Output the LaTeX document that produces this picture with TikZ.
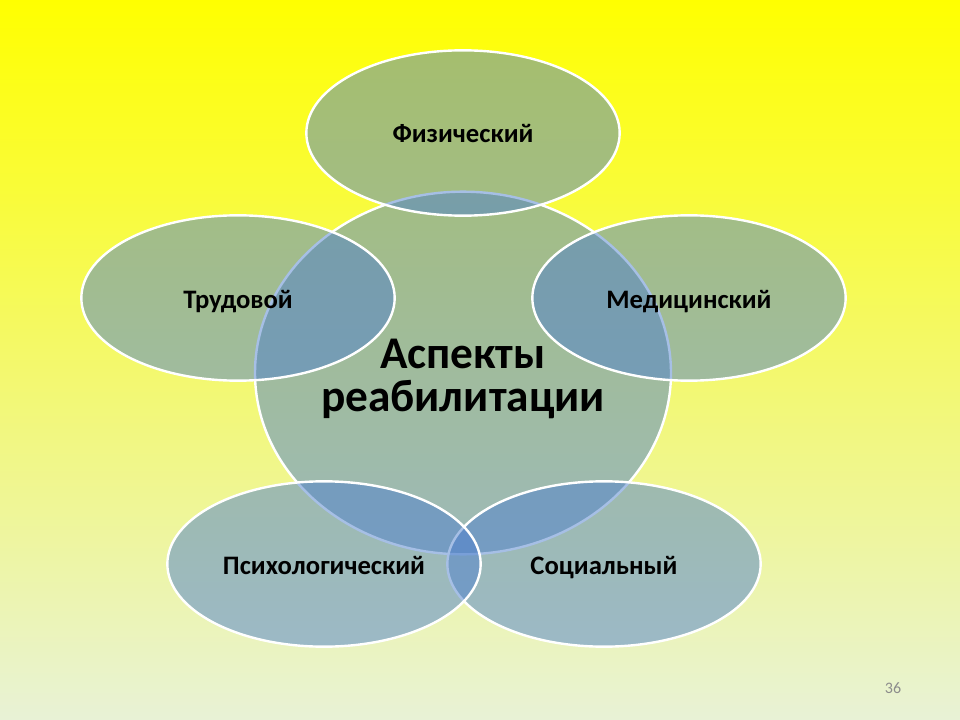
\documentclass[tikz,border=0pt]{standalone}
\usepackage{fontspec}
\setmainfont{Carlito}
\usetikzlibrary{shapes.geometric}
\definecolor{aspblue}{RGB}{78,128,205}
\definecolor{bgtop}{RGB}{255,255,0}
\definecolor{bgmid}{RGB}{245,248,108}
\definecolor{bgbot}{RGB}{232,242,214}
\begin{document}
\begin{tikzpicture}[x = 0.75pt, y = -0.75pt,
    aspect/.style = {ellipse, draw = white, line width = 1.8pt, fill = aspblue,
        fill opacity = 0.5, text opacity = 1, inner sep = 0pt},
    petal/.style = {aspect, minimum width = 235pt, minimum height = 124pt,
        text height = 17pt, text depth = 2pt,
        font = \fontsize{20}{24}\selectfont\bfseries},
    hub/.style = {aspect, minimum width = 312pt, minimum height = 272pt}]
    \useasboundingbox (0,0) rectangle (960,720);
    \fill[top color = bgtop, middle color = bgmid, bottom color = bgbot] (0,0) rectangle (960,720);
    % centre first, petals over it
    \node[hub] (hub) at (463,373) {};
    \node[font = \fontsize{34}{32}\selectfont\bfseries, align = center] (hubtext) at (463,379) {Аспекты\\реабилитации};
    \node[petal] (fiz) at (463,133) {Физический};
    \node[petal] (trud) at (238,298) {Трудовой};
    \node[petal] (med) at (689,298) {Медицинский};
    \node[petal] (soc) at (604,564) {Социальный};
    \node[petal] (psy) at (324,564) {Психологический};
    \node[text = black!45, font = \fontsize{12}{14}\selectfont] (page) at (893,688) {36};
\end{tikzpicture}
\end{document}
